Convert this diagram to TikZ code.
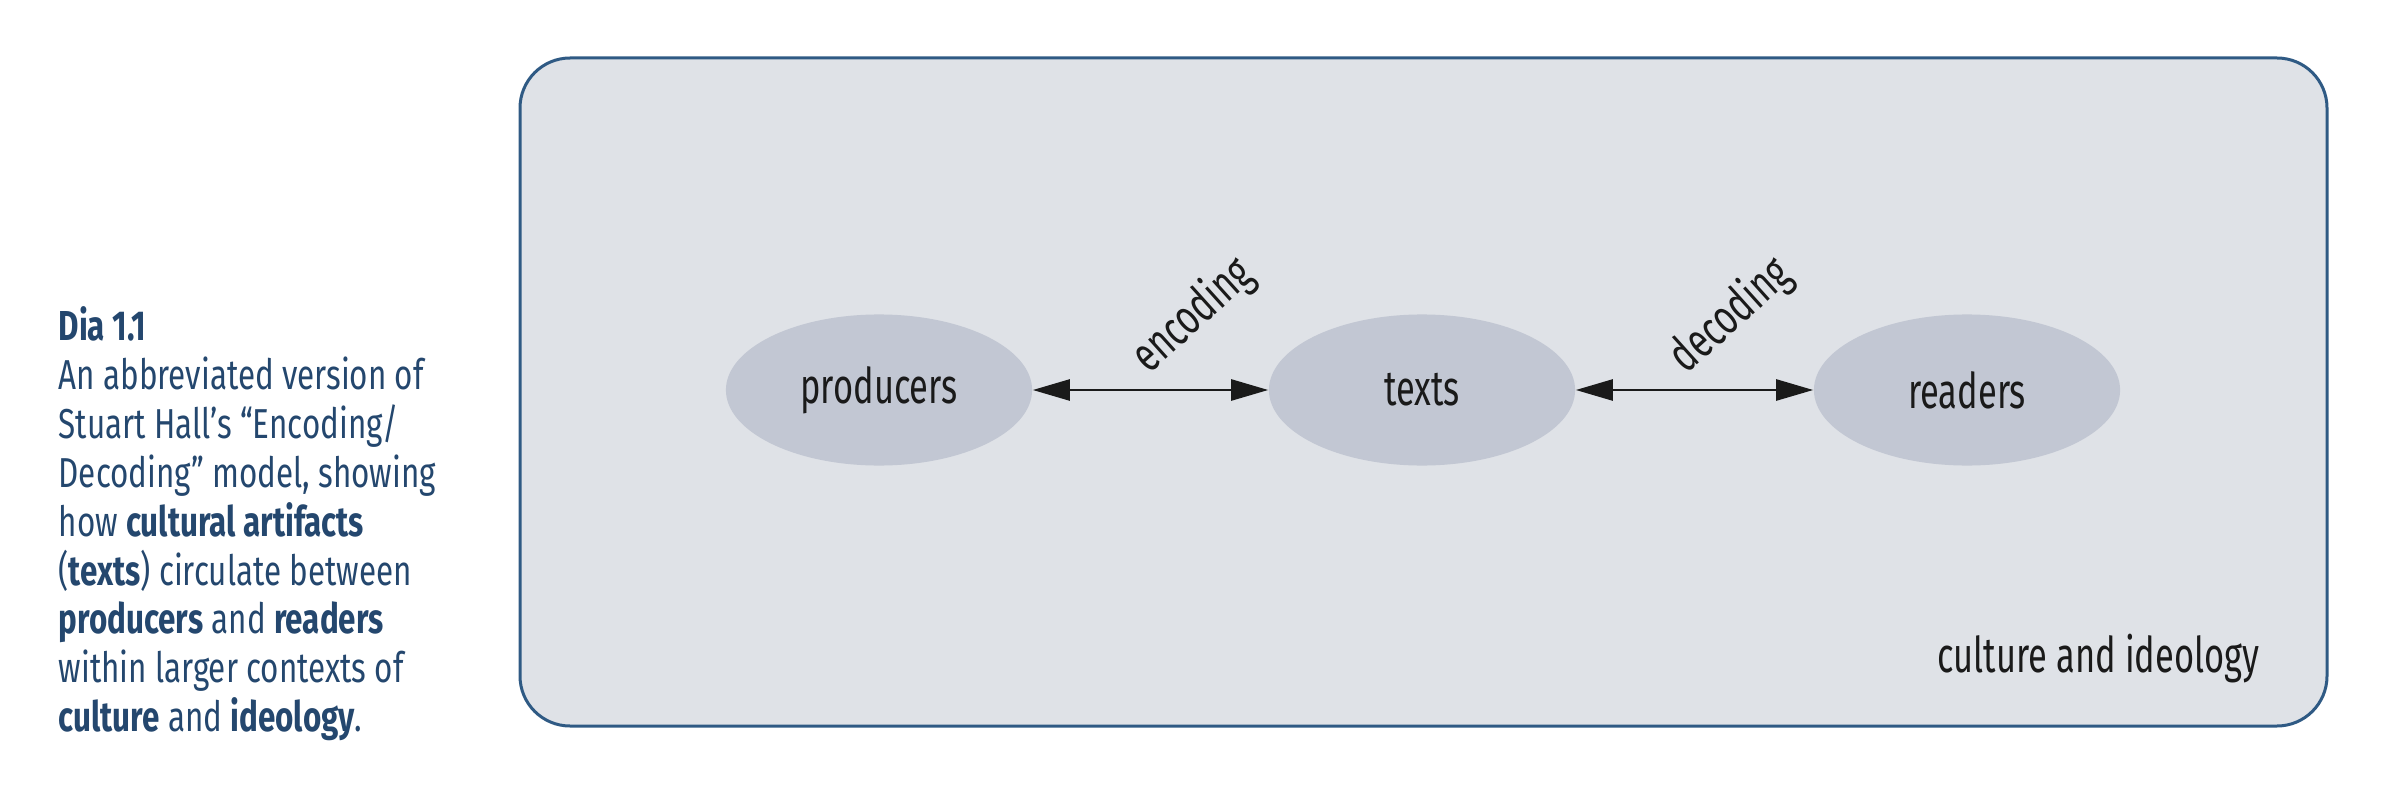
\documentclass[tikz,border=0pt]{standalone}
\usepackage{fontspec}
\setmainfont{Fira Sans}
\newfontfamily\capfont{Fira Sans}[FakeStretch=0.75]
\newfontfamily\diafont{Fira Sans}[FakeStretch=0.70]
\usetikzlibrary{shapes.geometric,arrows.meta}

\definecolor{capblue}{HTML}{24476E}
\definecolor{framefill}{HTML}{DFE2E7}
\definecolor{framedraw}{HTML}{2F5A84}
\definecolor{ovalfill}{HTML}{C2C7D3}
\definecolor{inkgrey}{HTML}{1A1A1A}

\tikzset{
  agent/.style={draw=none, ellipse, fill=ovalfill, minimum width=3.06cm, minimum height=1.51cm,
    inner sep=0pt, text=inkgrey, font=\diafont\fontsize{14}{16}\selectfont},
  flow/.style={{Triangle[length=0.37cm,width=0.21cm]}-{Triangle[length=0.37cm,width=0.21cm]},
    line width=0.025cm, draw=inkgrey},
  flowlabel/.style={rotate=42, inner sep=0pt, text=inkgrey, font=\diafont\fontsize{14}{16}\selectfont},
  caption/.style={anchor=north west, inner sep=0pt, align=left, text=capblue,
    font=\capfont\fontsize{11.9}{13.9}\selectfont},
}

\begin{document}
\begin{tikzpicture}[x=0.01cm, y=-0.01cm]
    \useasboundingbox (0,0) rectangle (2382,788);

    % Legenda
    \node[caption] (legenda) at (58,306) {\textbf{Dia 1.1}\\
      An abbreviated version of\\
      Stuart Hall’s “Encoding/\\
      Decoding” model, showing\\
      how \textbf{cultural artifacts}\\
      (\textbf{texts}) circulate between\\
      \textbf{producers} and \textbf{readers}\\
      within larger contexts of\\
      \textbf{culture} and \textbf{ideology}.};

    % Caixa de fundo
    \draw[fill=framefill, draw=framedraw, line width=0.03cm, rounded corners=0.5cm] (520,58) rectangle (2327,726);

    % Elipses
    \node[agent] (producers) at (879,390) {producers};
    \node[agent] (texts) at (1422,390) {texts};
    \node[agent] (readers) at (1967,390) {readers};

    % Setas duplas entre as elipses
    \draw[flow] (producers) -- (texts);
    \draw[flow] (texts) -- (readers);

    % Rótulos inclinados
    \node[flowlabel] (encoding) at (1193,316) {encoding};
    \node[flowlabel] (decoding) at (1731,316) {decoding};

    % Contexto
    \node[anchor=base east, inner sep=0pt, text=inkgrey, font=\diafont\fontsize{14}{16}\selectfont] (cultura) at (2260,672) {culture and ideology};
  \end{tikzpicture}
\end{document}
